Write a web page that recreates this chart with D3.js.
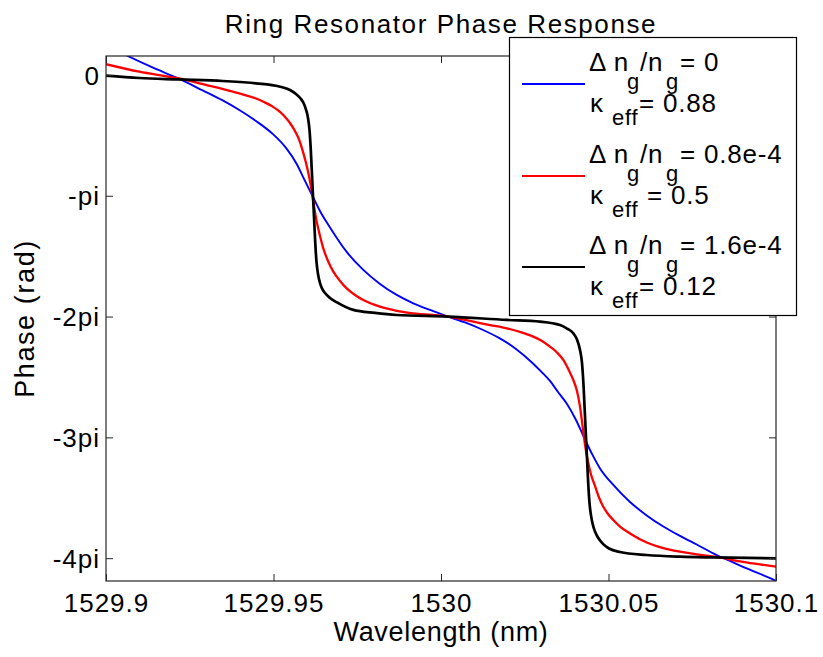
<!DOCTYPE html>
<html><head><meta charset="utf-8">
<script src="https://cdn.jsdelivr.net/npm/d3@7"></script>
<style>
body{margin:0;background:#fff}
svg{display:block}
text{font-family:"Liberation Sans",Arial,Helvetica,sans-serif;fill:#000}
</style>
</head><body>
<svg id="chart" width="823" height="657"></svg>
<script>
// ---------------- data ----------------
const chartTitle = "Ring Resonator Phase Response";
const xLabel = "Wavelength (nm)";
const yLabel = "Phase (rad)";

const xTickValues = [1529.9, 1529.95, 1530, 1530.05, 1530.1];
const xTickLabels = ["1529.9", "1529.95", "1530", "1530.05", "1530.1"];
const yTickValues = [0, -1, -2, -3, -4];          // multiples of pi
const yTickLabels = ["0", "-pi", "-2pi", "-3pi", "-4pi"];

// series: wavelength (nm) and phase (in units of pi)
const lambdaBlue = [1529.900000,1529.906955,1529.914030,1529.921403,1529.928866,1529.934836,1529.939791,1529.944776,1529.949761,1529.953731,1529.956925,1529.959254,1529.961642,1529.964030,1529.966866,1529.971851,1529.976806,1529.981791,1529.986776,1529.991731,1529.996716,1530.002089,1530.007164,1530.012239,1530.017313,1530.022388,1530.027463,1530.029851,1530.032537,1530.034925,1530.037612,1530.040298,1530.042686,1530.045075,1530.047463,1530.051433,1530.056418,1530.061403,1530.066358,1530.071343,1530.076328,1530.082298,1530.086269,1530.091254,1530.098209,1530.100299];
const phaseBlue  = [0.248,0.151,0.060,-0.027,-0.128,-0.211,-0.290,-0.381,-0.488,-0.604,-0.737,-0.869,-1.002,-1.134,-1.262,-1.465,-1.614,-1.730,-1.821,-1.890,-1.945,-2.000,-2.049,-2.107,-2.177,-2.268,-2.388,-2.454,-2.533,-2.624,-2.724,-2.856,-3.000,-3.137,-3.257,-3.394,-3.535,-3.646,-3.738,-3.816,-3.887,-3.974,-4.023,-4.085,-4.166,-4.193];

const lambdaRed = [1529.900000,1529.909940,1529.921403,1529.929851,1529.937821,1529.941194,1529.944776,1529.947164,1529.949761,1529.951940,1529.953731,1529.955224,1529.956716,1529.957910,1529.958806,1529.959701,1529.960597,1529.961642,1529.962090,1529.962896,1529.963881,1529.964866,1529.966269,1529.967851,1529.969851,1529.971851,1529.974328,1529.976806,1529.981791,1529.986776,1529.991731,1530.002089,1530.009642,1530.014627,1530.019612,1530.023582,1530.027552,1530.030149,1530.032537,1530.034627,1530.036507,1530.038060,1530.039493,1530.040597,1530.041493,1530.042179,1530.042686,1530.043284,1530.043970,1530.044776,1530.045970,1530.047164,1530.048448,1530.049851,1530.051433,1530.053433,1530.056418,1530.061403,1530.066358,1530.071343,1530.076328,1530.082298,1530.089254,1530.100209];
const phaseRed  = [0.089,0.027,-0.027,-0.083,-0.138,-0.164,-0.195,-0.224,-0.262,-0.306,-0.356,-0.410,-0.480,-0.555,-0.637,-0.728,-0.836,-1.002,-1.084,-1.214,-1.333,-1.435,-1.540,-1.628,-1.705,-1.766,-1.821,-1.863,-1.918,-1.952,-1.973,-2.000,-2.042,-2.070,-2.097,-2.127,-2.166,-2.202,-2.249,-2.297,-2.359,-2.438,-2.525,-2.616,-2.746,-2.889,-3.000,-3.113,-3.212,-3.307,-3.402,-3.498,-3.574,-3.634,-3.684,-3.738,-3.795,-3.870,-3.916,-3.946,-3.969,-3.990,-4.027,-4.070];

const lambdaBlack = [1529.900000,1529.909940,1529.921403,1529.934836,1529.944776,1529.951731,1529.954925,1529.956716,1529.958209,1529.959104,1529.959701,1529.960299,1529.960746,1529.961134,1529.961493,1529.961791,1529.962090,1529.962448,1529.962836,1529.963284,1529.963881,1529.964478,1529.965373,1529.966866,1529.968955,1529.973821,1529.980299,1529.986776,1530.002089,1530.019612,1530.029552,1530.035522,1530.037612,1530.039493,1530.040597,1530.041493,1530.042089,1530.042537,1530.042895,1530.043284,1530.043582,1530.043940,1530.044328,1530.044776,1530.045373,1530.045970,1530.046866,1530.048358,1530.050149,1530.053433,1530.061403,1530.071343,1530.081284,1530.100209];
const phaseBlack  = [-0.006,-0.025,-0.037,-0.050,-0.069,-0.095,-0.124,-0.157,-0.199,-0.240,-0.286,-0.356,-0.455,-0.621,-0.828,-1.002,-1.175,-1.382,-1.548,-1.647,-1.722,-1.767,-1.805,-1.846,-1.883,-1.945,-1.970,-1.987,-2.000,-2.028,-2.042,-2.070,-2.099,-2.138,-2.190,-2.276,-2.384,-2.566,-2.773,-3.000,-3.171,-3.377,-3.543,-3.646,-3.729,-3.779,-3.829,-3.882,-3.920,-3.949,-3.974,-3.988,-3.994,-4.001];

const seriesColors = ["#0000ff", "#ff0000", "#000000"];
const legendRatio = ["0", "0.8e-4", "1.6e-4"];
const legendKappa = ["= 0.88", " = 0.5", "= 0.12"];

// ---------------- drawing ----------------
const svg = d3.select("#chart");
const L = 106, R = 776, T = 56, B = 581;
const x = d3.scaleLinear().domain([1529.9, 1530.1]).range([L, R]);
const y = d3.scaleLinear().domain([-4.189 * Math.PI, 0.157 * Math.PI]).range([B, T]);

svg.append("rect").attr("width", 823).attr("height", 657).attr("fill", "#fff");

svg.append("defs").append("clipPath").attr("id", "plotclip")
  .append("rect").attr("x", L).attr("y", T).attr("width", R - L).attr("height", B - T);

const series = [
  {lam: lambdaBlue, ph: phaseBlue, w: 1.9},
  {lam: lambdaRed, ph: phaseRed, w: 2.3},
  {lam: lambdaBlack, ph: phaseBlack, w: 2.7}
];

const line = d3.line()
  .x(d => x(d[0]))
  .y(d => y(d[1] * Math.PI))
  .curve(d3.curveMonotoneX);

const plot = svg.append("g").attr("clip-path", "url(#plotclip)");
series.forEach((s, i) => {
  const pts = s.lam.map((l, k) => [l, s.ph[k]]);
  plot.append("path").datum(pts)
    .attr("d", line)
    .attr("fill", "none")
    .attr("stroke", seriesColors[i])
    .attr("stroke-width", s.w)
    .attr("stroke-linejoin", "round");
});

// axes (box with inward ticks)
const axisColor = "#262626";
const tickLen = 7;
const fontSize = 26;
const fontFam = '"Liberation Sans",Arial,sans-serif';

const xb = svg.append("g").attr("transform", `translate(0,${B})`)
  .call(d3.axisBottom(x).tickValues(xTickValues).tickFormat((d, i) => xTickLabels[i])
        .tickSizeInner(-tickLen).tickSizeOuter(0));
xb.select(".domain").remove();
xb.selectAll("line").attr("stroke", axisColor);
xb.selectAll("text").attr("y", 31).attr("dy", 0)
  .attr("font-size", fontSize).attr("letter-spacing", "1px")
  .attr("font-family", fontFam).attr("fill", "#000");

const xt = svg.append("g").attr("transform", `translate(0,${T})`)
  .call(d3.axisTop(x).tickValues(xTickValues).tickFormat("").tickSizeInner(-tickLen).tickSizeOuter(0));
xt.select(".domain").remove();
xt.selectAll("line").attr("stroke", axisColor);

const yl = svg.append("g").attr("transform", `translate(${L},0)`)
  .call(d3.axisLeft(y).tickValues(yTickValues.map(v => v * Math.PI))
        .tickFormat((d, i) => yTickLabels[i]).tickSizeInner(-tickLen).tickSizeOuter(0));
yl.select(".domain").remove();
yl.selectAll("line").attr("stroke", axisColor);
yl.selectAll("text").attr("x", -6).attr("dy", "0.35em")
  .attr("font-size", fontSize).attr("letter-spacing", "1px")
  .attr("font-family", fontFam).attr("fill", "#000");

const yr = svg.append("g").attr("transform", `translate(${R},0)`)
  .call(d3.axisRight(y).tickValues(yTickValues.map(v => v * Math.PI))
        .tickFormat("").tickSizeInner(-tickLen).tickSizeOuter(0));
yr.select(".domain").remove();
yr.selectAll("line").attr("stroke", axisColor);

svg.append("rect").attr("x", L).attr("y", T).attr("width", R - L).attr("height", B - T)
  .attr("fill", "none").attr("stroke", axisColor).attr("stroke-width", 1.2);

// title & labels
svg.append("text").attr("x", (L + R) / 2).attr("y", 33).attr("text-anchor", "middle")
  .attr("font-size", 26).attr("letter-spacing", "1.6px").text(chartTitle);
svg.append("text").attr("x", (L + R) / 2).attr("y", 641).attr("text-anchor", "middle")
  .attr("font-size", 27).attr("letter-spacing", "0.7px").text(xLabel);
svg.append("text").attr("transform", `translate(34,${(T + B) / 2}) rotate(-90)`)
  .attr("text-anchor", "middle").attr("font-size", 27).attr("letter-spacing", "1.6px").text(yLabel);

// legend
const lg = svg.append("g");
lg.append("rect").attr("x", 509.5).attr("y", 37.5).attr("width", 287).attr("height", 278)
  .attr("fill", "#fff").attr("stroke", "#000").attr("stroke-width", 1.2);
const legendLineY = [84, 176, 267];
const subSize = 22;
legendRatio.forEach((r, i) => {
  const ly = legendLineY[i];
  lg.append("line").attr("x1", 522).attr("x2", 585).attr("y1", ly).attr("y2", ly)
    .attr("stroke", seriesColors[i]).attr("stroke-width", 2.2);
  const t1 = lg.append("text").attr("font-size", fontSize).attr("letter-spacing", "0.8px");
  t1.append("tspan").attr("x", 589).attr("y", ly - 13).text("\u0394 n");
  t1.append("tspan").attr("x", 627).attr("y", ly + 5).attr("font-size", subSize).text("g");
  t1.append("tspan").attr("x", 640).attr("y", ly - 13).text("/n");
  t1.append("tspan").attr("x", 666).attr("y", ly + 5).attr("font-size", subSize).text("g");
  t1.append("tspan").attr("x", 680).attr("y", ly - 13).text("= " + r);
  const t2 = lg.append("text").attr("font-size", fontSize).attr("letter-spacing", "0.8px");
  t2.append("tspan").attr("x", 590).attr("y", ly + 28).text("\u03BA");
  t2.append("tspan").attr("x", 612).attr("y", ly + 41).attr("font-size", subSize).text("eff");
  t2.append("tspan").attr("x", 639).attr("y", ly + 28).text(legendKappa[i]);
});
</script>
</body></html>
